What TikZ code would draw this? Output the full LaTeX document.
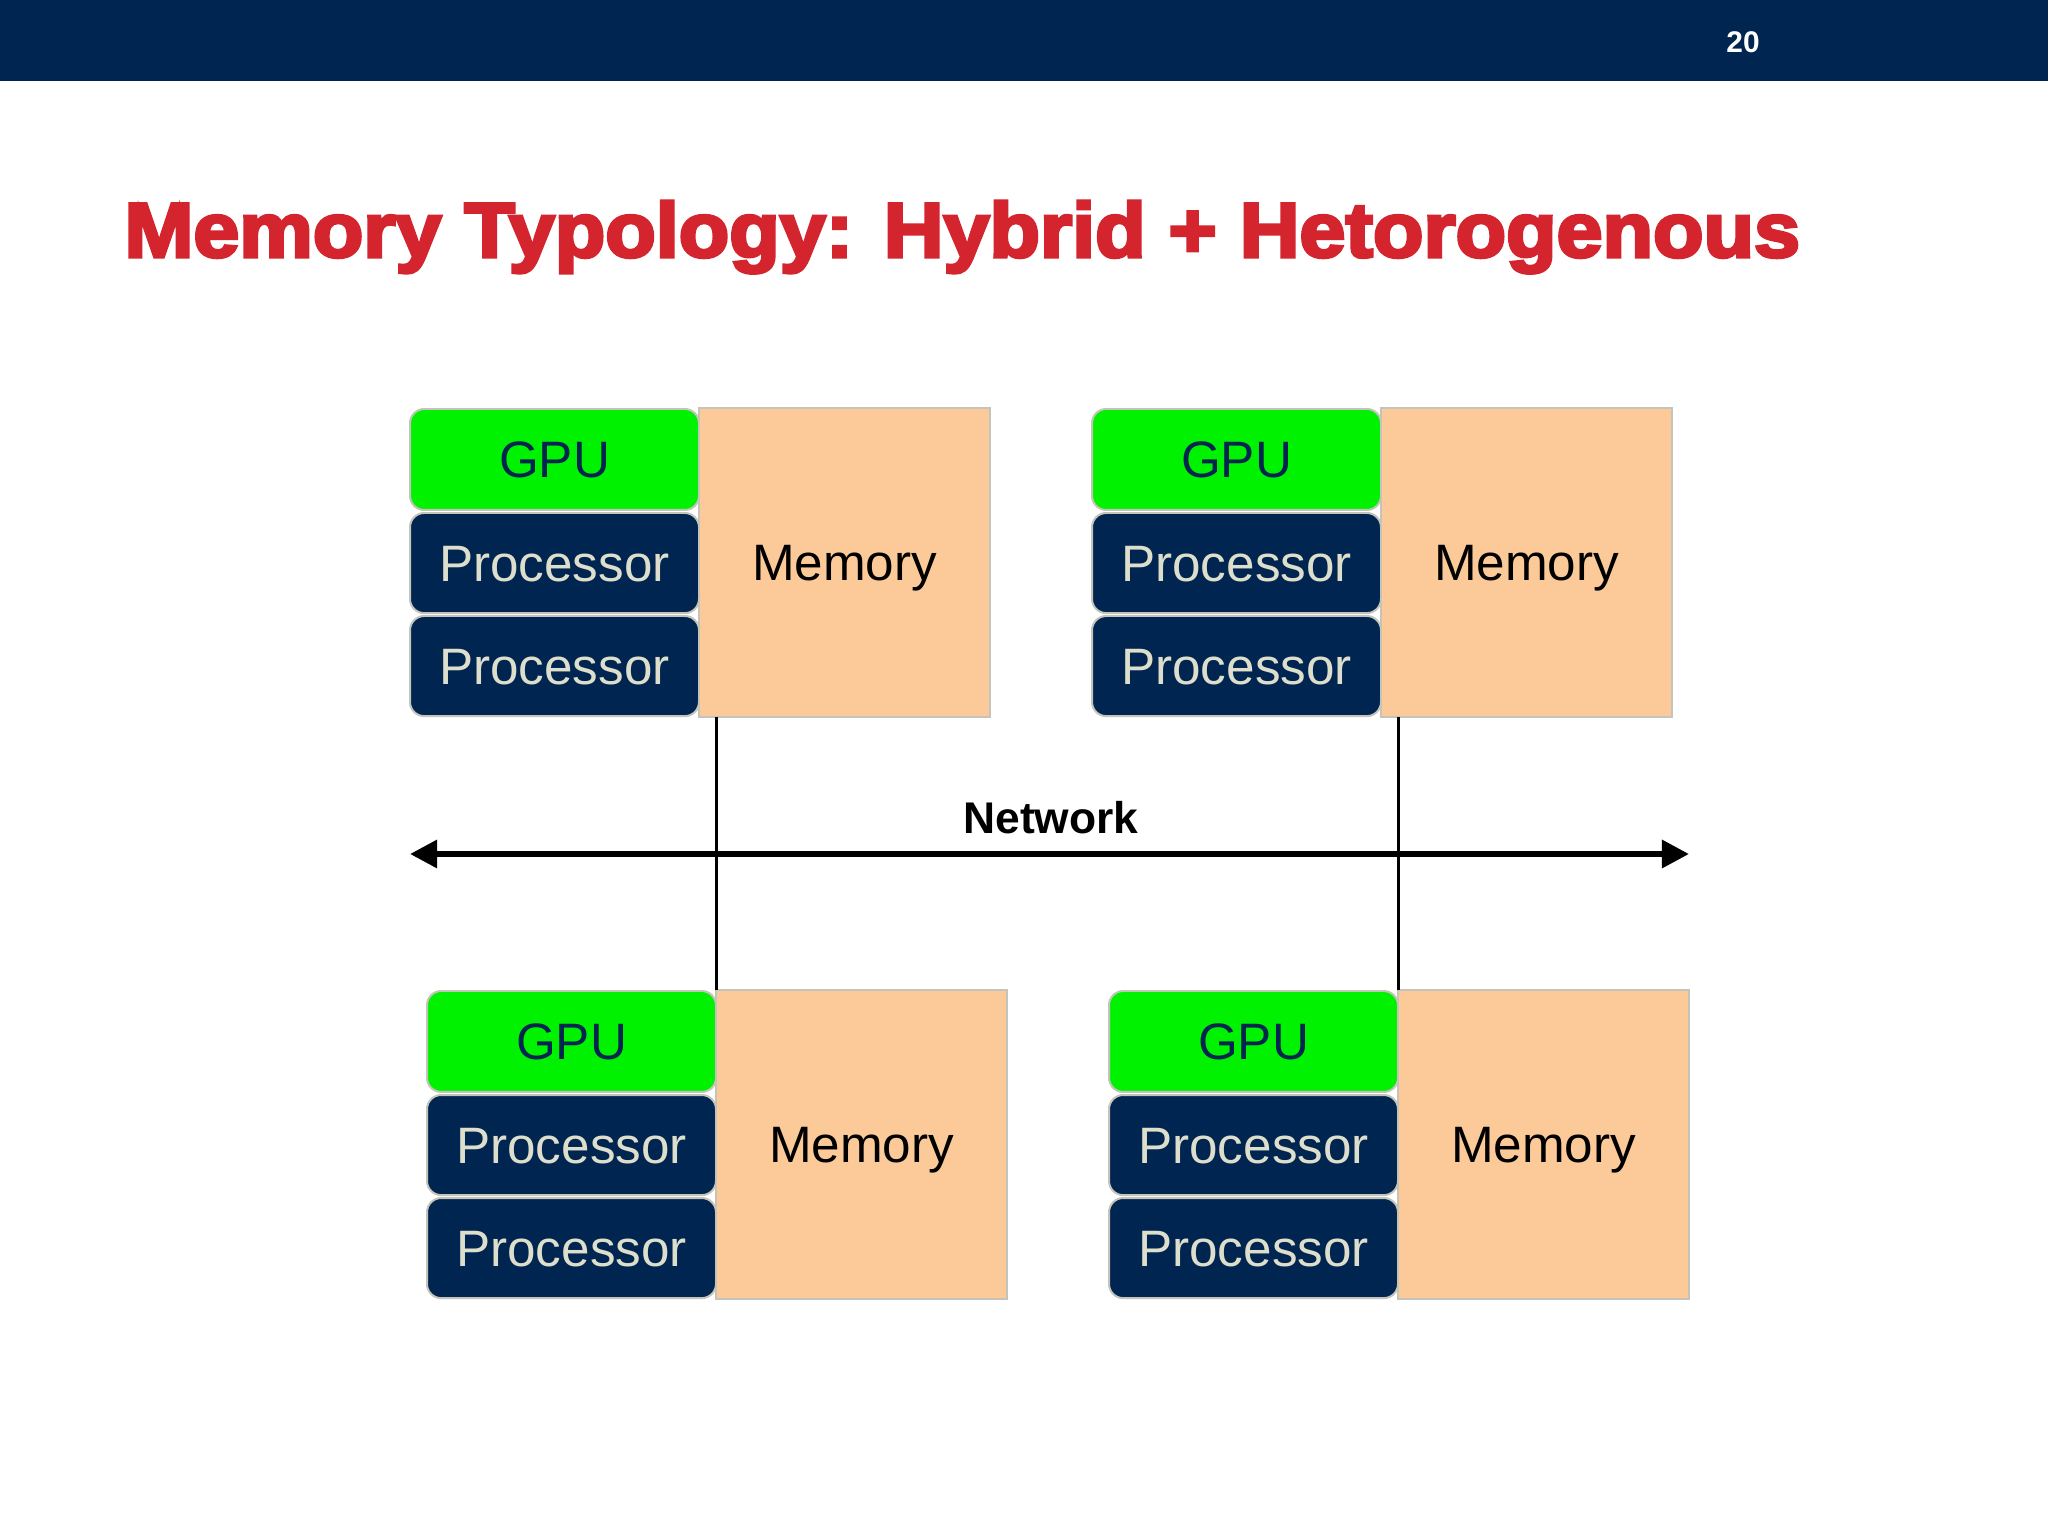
\documentclass[tikz,border=0pt]{standalone}
\usepackage{fontspec}
\setmainfont{Liberation Sans}
\newfontfamily\titlefont{Liberation Sans}[BoldFeatures={FakeBold=4}]
\usetikzlibrary{arrows.meta}
\definecolor{navy}{RGB}{0,37,80}
\definecolor{titlered}{RGB}{212,36,46}
\definecolor{gpugreen}{RGB}{0,242,0}
\definecolor{peach}{RGB}{252,202,152}
\definecolor{proctext}{RGB}{222,222,204}
\definecolor{edgegray}{RGB}{196,196,186}
\tikzset{
  unitbox/.style={inner sep=0pt, outer sep=0pt, anchor=north west, font=\fontsize{18}{20}\selectfont,
    text height=12.9pt, text depth=0pt},
  gpubox/.style={unitbox, draw=edgegray, line width=0.7pt, rounded corners=5pt, fill=gpugreen, text=navy,
    minimum width=101.6pt, minimum height=35.5pt},
  procbox/.style={unitbox, draw=edgegray, line width=0.7pt, rounded corners=5pt, fill=navy, text=proctext,
    minimum width=101.6pt, minimum height=35.2pt},
  membox/.style={unitbox, draw=edgegray, line width=0.5pt, fill=peach, text=black,
    minimum width=102.3pt, minimum height=108.6pt},
  vline/.style={line width=1.05pt, black},
  netline/.style={line width=2.1pt, black, {Triangle[length=9.5pt,width=9.5pt]}-{Triangle[length=9.5pt,width=9.5pt]}}
}
\begin{document}
\begin{tikzpicture}[x=0.3515625pt, y=-0.3515625pt]
\useasboundingbox (0,0) rectangle (2048,1536);
\fill[white] (0,0) rectangle (2048,1536);
% top bar
\fill[navy] (0,0) rectangle (2048,81);
\node[text=white, font=\bfseries\fontsize{10.5}{12}\selectfont, inner sep=0pt] (pagenum) at (1743,42) {20};
% title
\node[anchor=base west, inner sep=0pt, text=titlered] (title) at (124,257)
  {\resizebox{589pt}{19.7pt}{\titlefont\bfseries Memory Typology: Hybrid + Hetorogenous}};
% groups
\foreach \n/\gx/\gy in {a/410/409, b/1092/409, c/427/991, d/1109/991}{
  \node[gpubox] (\n-gpu) at (\gx,\gy) {GPU};
  \node[procbox] (\n-p1) at (\gx,\gy+104) {Processor};
  \node[procbox] (\n-p2) at (\gx,\gy+207) {Processor};
  \node[membox] (\n-mem) at (\gx+289,\gy-1) {Memory};
}
% network
\coordinate (netL) at (410,854);
\coordinate (netR) at (1689,854);
\draw[vline] (c-mem.north west) -- (c-mem.north west |- a-mem.south);
\draw[vline] (d-mem.north west) -- (d-mem.north west |- b-mem.south);
\draw[netline] (netL) -- (netR);
\node[anchor=base, inner sep=0pt, font=\bfseries\fontsize{15.6}{18}\selectfont] (netlabel) at (1051,833) {Network};
\end{tikzpicture}
\end{document}
